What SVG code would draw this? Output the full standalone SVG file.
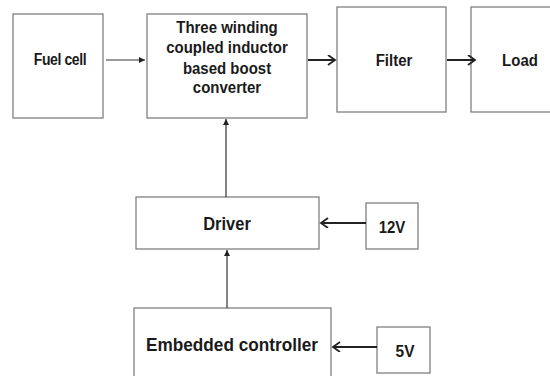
<svg xmlns="http://www.w3.org/2000/svg" width="550" height="376" viewBox="0 0 550 376">
<defs>
<style>
.box{fill:#fff;stroke:#808080;stroke-width:1.3}
.t{font-family:"Liberation Sans",Arial,sans-serif;font-weight:bold;fill:#1a1a1a;text-anchor:middle}
.ln{stroke:#333;stroke-width:1.2;fill:none}
.lnb{stroke:#222;stroke-width:2;fill:none}
</style>
<marker id="tri" markerWidth="8" markerHeight="8" refX="6" refY="3" orient="auto" markerUnits="userSpaceOnUse">
<path d="M0,0 L6,3 L0,6 Z" fill="#222"/>
</marker>
<marker id="chev" markerWidth="12" markerHeight="12" refX="8" refY="5" orient="auto" markerUnits="userSpaceOnUse">
<path d="M1,0 L8,5 L1,10" fill="none" stroke="#222" stroke-width="1.8"/>
</marker>
</defs>
<rect width="550" height="376" fill="#fff"/>
<g id="fuelcell"><rect class="box" x="13" y="14" width="90" height="104"/><text class="t" transform="translate(60,65) scale(1,1.18)" font-size="14" letter-spacing="-0.4">Fuel cell</text></g>
<g id="converter"><rect class="box" x="147" y="14" width="160" height="104"/>
<text class="t" font-size="15" transform="translate(227,33) scale(1,1.1)"><tspan x="0" y="0">Three winding</tspan><tspan x="0" y="18.5">coupled inductor</tspan><tspan x="0" y="37">based boost</tspan><tspan x="0" y="55">converter</tspan></text></g>
<g id="filter"><rect class="box" x="337" y="7" width="109" height="105"/><text class="t" transform="translate(394,66) scale(1,1.12)" font-size="15">Filter</text></g>
<g id="load"><rect class="box" x="471" y="7" width="90" height="105"/><text class="t" transform="translate(520,66) scale(1,1.12)" font-size="15">Load</text></g>
<g id="driver"><rect class="box" x="136" y="197" width="183" height="52"/><text class="t" transform="translate(227,230) scale(1,1.08)" font-size="16.5">Driver</text></g>
<g id="v12"><rect class="box" x="366" y="203" width="52" height="46"/><text class="t" transform="translate(392,233) scale(1,1.12)" font-size="15">12V</text></g>
<g id="controller"><rect class="box" x="134" y="308" width="197" height="80"/><text class="t" transform="translate(232,351) scale(1,1.05)" font-size="17.2">Embedded controller</text></g>
<g id="v5"><rect class="box" x="377" y="327" width="53" height="46"/><text class="t" transform="translate(405,357) scale(1,1.1)" font-size="15.5">5V</text></g>
<g id="connectors">
<line class="ln" x1="106" y1="60" x2="145" y2="60" marker-end="url(#tri)"/>
<line class="lnb" x1="308" y1="60" x2="335" y2="60" marker-end="url(#chev)"/>
<line class="lnb" x1="447" y1="60" x2="475" y2="60" marker-end="url(#chev)"/>
<line class="ln" x1="226" y1="197" x2="226" y2="119" marker-end="url(#tri)"/>
<line class="ln" x1="227" y1="308" x2="227" y2="250" marker-end="url(#tri)"/>
<line class="lnb" x1="366" y1="223" x2="321" y2="223" marker-end="url(#chev)"/>
<line class="lnb" x1="377" y1="347" x2="333" y2="347" marker-end="url(#chev)"/>
</g>
</svg>
